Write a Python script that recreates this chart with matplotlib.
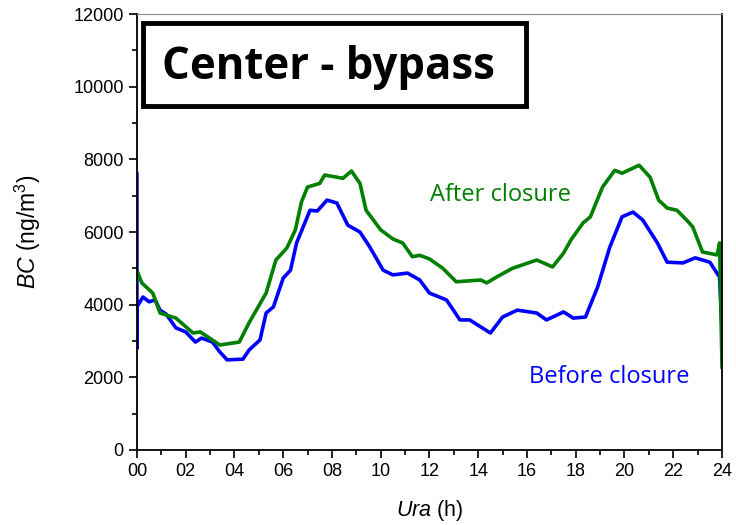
import matplotlib.pyplot as plt
from matplotlib.patches import Rectangle

plt.rcParams['font.family'] = ['Liberation Sans', 'DejaVu Sans']
plt.rcParams['mathtext.fontset'] = 'custom'
plt.rcParams['mathtext.rm'] = 'Liberation Sans'
plt.rcParams['mathtext.it'] = 'Liberation Sans:italic'

# after closure (green)
after_h = [0, 0.2, 0.65, 0.95, 1.6, 2.3, 2.6, 3.4, 4.2, 4.6, 5.3, 5.7, 6.15, 6.5, 6.75, 7.0,
           7.5, 7.7, 8.45, 8.8, 9.15, 9.4, 10.0, 10.5, 10.9, 11.3, 11.6, 12.0, 12.55, 13.1,
           14.1, 14.35, 14.75, 15.4, 16.4, 17.05, 17.5, 17.8, 18.3, 18.6, 19.1, 19.6, 19.9,
           20.6, 21.05, 21.4, 21.75, 22.15, 22.55, 22.8, 23.2, 23.8, 23.9, 24.0]
after_bc = [4950, 4600, 4320, 3770, 3630, 3220, 3250, 2890, 2970, 3500, 4320, 5230, 5560, 6060,
            6830, 7240, 7340, 7570, 7480, 7680, 7340, 6600, 6060, 5810, 5700, 5320, 5360, 5260,
            5000, 4630, 4680, 4600, 4760, 5000, 5230, 5040, 5420, 5780, 6250, 6420, 7240, 7700,
            7620, 7840, 7510, 6880, 6660, 6600, 6330, 6140, 5450, 5370, 5700, 2280]

# before closure (blue)
before_h = [0, 0, 0, 0.25, 0.5, 0.75, 0.95, 1.2, 1.6, 2.0, 2.4, 2.65, 3.1, 3.4, 3.7, 4.35, 4.6,
            5.05, 5.3, 5.6, 6.0, 6.3, 6.55, 7.1, 7.4, 7.8, 8.2, 8.65, 9.15, 9.55, 10.1, 10.5,
            11.1, 11.6, 12.0, 12.7, 13.25, 13.65, 14.5, 15.0, 15.6, 16.4, 16.8, 17.5, 17.9,
            18.4, 18.9, 19.4, 19.9, 20.35, 20.75, 21.35, 21.75, 22.4, 22.9, 23.5, 23.9, 24.0]
before_bc = [7600, 2800, 3940, 4210, 4080, 4130, 3850, 3740, 3360, 3250, 2970, 3080, 2970, 2700,
             2480, 2500, 2750, 3030, 3770, 3940, 4730, 4950, 5700, 6600, 6580, 6880, 6800, 6190,
             6000, 5590, 4950, 4820, 4870, 4680, 4320, 4130, 3580, 3580, 3220, 3660, 3850, 3770,
             3580, 3800, 3630, 3660, 4490, 5590, 6420, 6550, 6330, 5700, 5170, 5150, 5290, 5170,
             4760, 3300]

hour_labels = ['00', '02', '04', '06', '08', '10', '12', '14', '16', '18', '20', '22', '24']

fig = plt.figure(figsize=(7.36, 5.25), dpi=100)
ax = fig.add_axes([0.186, 0.143, 0.795, 0.83])

ax.plot(before_h, before_bc, color='#0000ff', lw=2.6)
ax.plot(after_h, after_bc, color='#007f00', lw=2.6)

ax.set_xlim(0, 24)
ax.set_ylim(0, 12000)
ax.set_xticks(range(0, 25, 2))
ax.set_xticklabels(hour_labels)
ax.set_xticks(range(1, 24, 2), minor=True)
ax.set_yticks(range(0, 12001, 2000))
ax.set_yticks(range(1000, 12000, 2000), minor=True)
ax.tick_params(which='both', direction='out', labelsize=13, width=1.2)
ax.tick_params(which='major', length=6)
ax.tick_params(which='minor', length=3.5)
for s in ['left', 'bottom', 'right']:
    ax.spines[s].set_linewidth(1.3)
ax.spines['top'].set_color('#888888')

ax.set_xlabel(r'$\it{Ura}$ (h)', fontsize=15.5, labelpad=13)
ax.set_ylabel(r'$\it{BC}$ (ng/m$^3$)', fontsize=16.5, labelpad=22)

box = Rectangle((0.01, 0.79), 0.655, 0.19, transform=ax.transAxes, fill=False,
                lw=3.5, edgecolor='black', clip_on=False)
ax.add_patch(box)
ax.text(0.327, 0.878, 'Center - bypass', transform=ax.transAxes, fontsize=31.5,
        fontweight='bold', family=['Open Sans', 'DejaVu Sans'], ha='center', va='center')

ax.text(14.93, 7020, 'After closure', color='#007f00', fontsize=17,
        family=['Open Sans', 'DejaVu Sans'], ha='center', va='center')
ax.text(19.36, 2010, 'Before closure', color='#0000ff', fontsize=17,
        family=['Open Sans', 'DejaVu Sans'], ha='center', va='center')

fig.savefig('out.png', dpi=100)
